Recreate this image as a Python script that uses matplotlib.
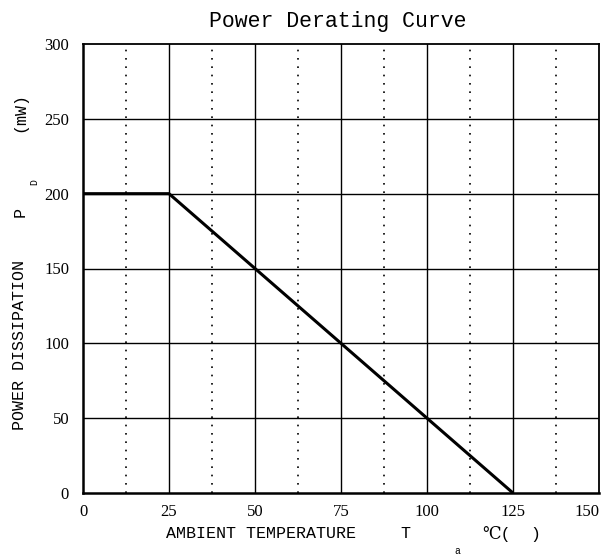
import matplotlib
matplotlib.use("Agg")
import matplotlib.pyplot as plt

# curve data
temp = [0, 25, 125]
power = [200, 200, 0]

xticks = [0, 25, 50, 75, 100, 125, 150]
yticks = [0, 50, 100, 150, 200, 250, 300]
xminor = [12.5, 37.5, 62.5, 87.5, 112.5, 137.5]

fam = ['Liberation Mono', 'DejaVu Serif']
plt.rcParams['font.family'] = fam

W, H = 608, 556
fig = plt.figure(figsize=(W / 100, H / 100), dpi=100)
ax = fig.add_axes([83 / W, 1 - 493 / H, (599 - 83) / W, (493 - 44) / H])

ax.set_xlim(0, 150)
ax.set_ylim(0, 300)
ax.set_xticks(xticks)
ax.set_yticks(yticks)
ax.tick_params(length=0, labelsize=12, pad=8)
ax.tick_params(axis='y', pad=10)
for lab in ax.get_xticklabels() + ax.get_yticklabels():
    lab.set_family('Liberation Serif')
ax.get_xticklabels()[-1].set_ha('right')

for x in xticks[1:-1]:
    ax.axvline(x, color='black', lw=1.0)
for x in xminor:
    ax.axvline(x, color='black', lw=1.2, linestyle=(0, (1, 4)))
for y in yticks[1:-1]:
    ax.axhline(y, color='black', lw=1.0)

ax.plot(temp, power, color='black', lw=2.2, solid_capstyle='butt')

for s in ['left', 'bottom']:
    ax.spines[s].set_linewidth(1.8)
for s in ['top', 'right']:
    ax.spines[s].set_linewidth(1.3)

def px(x, y, s, size=12, **kw):
    fig.text(x / W, 1 - y / H, s, fontsize=size, ha='center', va='center', family=fam, **kw)

px(338, 21, 'Power Derating Curve', size=15.5)

# x label pieces
px(261, 534, 'AMBIENT TEMPERATURE')
px(405, 534, 'T')
px(457, 551, 'a', size=7)
px(497, 534, '℃(')
px(535, 534, ')')

# y label pieces
px(20, 345, 'POWER DISSIPATION', rotation=90)
px(20, 212, 'P', rotation=90)
px(34, 182, 'D', size=7, rotation=90)
px(20, 112, '(mW)', rotation=90)

fig.savefig('out.png', dpi=100)
